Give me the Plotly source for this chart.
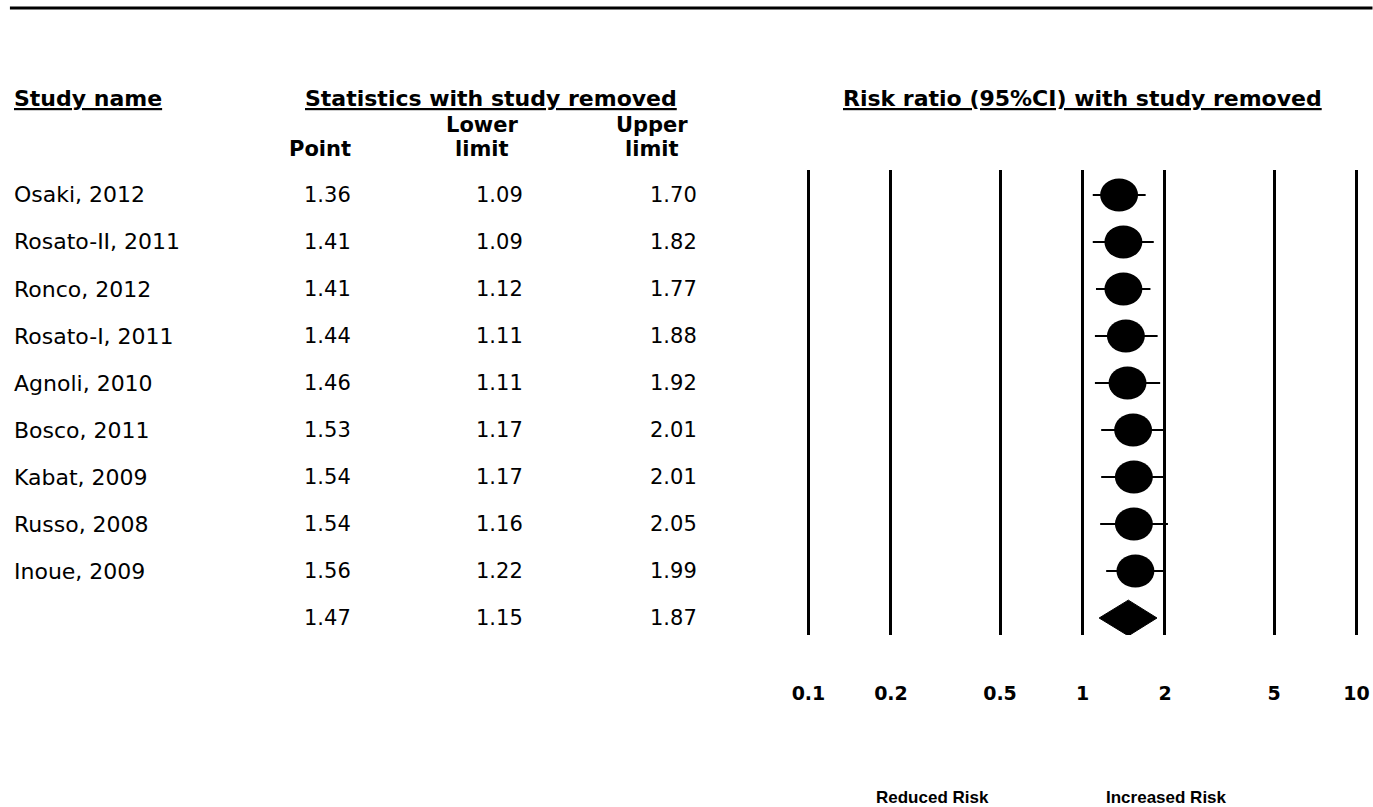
import plotly.graph_objects as go

# Leave-one-out sensitivity analysis: pooled risk ratio with each study removed
studies = ["Osaki, 2012", "Rosato-II, 2011", "Ronco, 2012", "Rosato-I, 2011",
           "Agnoli, 2010", "Bosco, 2011", "Kabat, 2009", "Russo, 2008", "Inoue, 2009"]
point = [1.36, 1.41, 1.41, 1.44, 1.46, 1.53, 1.54, 1.54, 1.56]
lower = [1.09, 1.09, 1.12, 1.11, 1.11, 1.17, 1.17, 1.16, 1.22]
upper = [1.70, 1.82, 1.77, 1.88, 1.92, 2.01, 2.01, 2.05, 1.99]

# Overall pooled estimate
pooled_point, pooled_lower, pooled_upper = 1.47, 1.15, 1.87

tick_vals = [0.1, 0.2, 0.5, 1, 2, 5, 10]
tick_text = ["0.1", "0.2", "0.5", "1", "2", "5", "10"]

W, H = 1373, 807
ROW0, ROW_STEP = 195, 47          # pixel centre of the first row, row spacing
PLOT_TOP, PLOT_BOT = 170, 635     # vertical extent of the forest panel
X_LEFT, X_RIGHT = 802.5, 1362.5   # horizontal extent of the forest panel
X_RANGE = [-1.02, 1.02]           # log10 range of the forest panel
PX_PER_DECADE = (X_RIGHT - X_LEFT) / (X_RANGE[1] - X_RANGE[0])

n_rows = len(studies) + 1
rows = list(range(len(studies)))
pooled_row = len(studies)

y_top = (PLOT_TOP - ROW0) / ROW_STEP
y_bot = (PLOT_BOT - ROW0) / ROW_STEP


def px(x):
    """Pixel x -> paper x."""
    return (x - X_LEFT) / (X_RIGHT - X_LEFT)


def py(y):
    """Pixel y -> paper y."""
    return 1 - (y - PLOT_TOP) / (PLOT_BOT - PLOT_TOP)


fig = go.Figure()

# Confidence interval whiskers
ci_x, ci_y = [], []
for r, lo, hi in zip(rows, lower, upper):
    ci_x += [lo, hi, None]
    ci_y += [r, r, None]
fig.add_trace(go.Scatter(x=ci_x, y=ci_y, mode="lines",
                         line=dict(color="black", width=2.2),
                         hoverinfo="skip", showlegend=False))

# Point estimates (hover targets; the visible marks are ellipses below)
fig.add_trace(go.Scatter(x=point, y=rows, mode="markers",
                         marker=dict(size=30, color="rgba(0,0,0,0)"),
                         customdata=list(zip(lower, upper)), text=studies,
                         hovertemplate="%{text}<br>RR %{x:.2f} "
                                       "(%{customdata[0]:.2f}-%{customdata[1]:.2f})"
                                       "<extra></extra>",
                         showlegend=False))

# Pooled estimate diamond
half_h = 0.38
fig.add_trace(go.Scatter(
    x=[pooled_lower, pooled_point, pooled_upper, pooled_point, pooled_lower],
    y=[pooled_row, pooled_row - half_h, pooled_row, pooled_row + half_h, pooled_row],
    mode="lines", fill="toself", fillcolor="black",
    line=dict(color="black", width=1), hoverinfo="skip", showlegend=False))

# Slightly wide elliptical point markers centred on each estimate
ELL_W, ELL_H = 38, 33                         # marker size in pixels
fx = 10 ** ((ELL_W / 2) / PX_PER_DECADE)      # multiplicative half-width on log axis
fy = (ELL_H / 2) / ROW_STEP                   # half-height in row units
shapes = []
for r, p in zip(rows, point):
    shapes.append(dict(type="circle", xref="x", yref="y",
                       x0=p / fx, x1=p * fx, y0=r - fy, y1=r + fy,
                       fillcolor="black", line=dict(width=0), layer="above"))

# Rule across the top of the figure
shapes.append(dict(type="line", xref="paper", yref="paper",
                   x0=px(8), x1=px(W), y0=py(8), y1=py(8),
                   line=dict(color="black", width=3)))

FAM = "DejaVu Sans, Verdana, sans-serif"
HEAD = dict(family=FAM, size=22, color="black", weight="bold")
SUB = dict(family=FAM, size=21, color="black", weight="bold")
NAME = dict(family=FAM, size=22, color="black")
NUM = dict(family=FAM, size=21, color="black")

ann = []

# Section headers (underlined)
ann.append(dict(text="<u>Study name</u>", x=px(10), y=py(98), xanchor="left",
                yanchor="middle", font=HEAD))
ann.append(dict(text="<u>Statistics with study removed</u>", x=px(490), y=py(98),
                xanchor="center", yanchor="middle", font=HEAD))
ann.append(dict(text="<u>Risk ratio (95%CI) with study removed</u>", x=px(1082),
                y=py(98), xanchor="center", yanchor="middle", font=HEAD))

# Column headers
ann.append(dict(text="Point", x=px(352), y=py(149), xanchor="right",
                yanchor="middle", font=SUB))
for label, cx in (("Lower", 481), ("Upper", 651)):
    ann.append(dict(text=label, x=px(cx), y=py(125), xanchor="center",
                    yanchor="middle", font=SUB))
    ann.append(dict(text="limit", x=px(cx), y=py(149), xanchor="center",
                    yanchor="middle", font=SUB))

# Table body
names_col = studies + [""]
pt_col = point + [pooled_point]
lo_col = lower + [pooled_lower]
hi_col = upper + [pooled_upper]
for r in range(n_rows):
    yy = py(ROW0 + r * ROW_STEP)
    if names_col[r]:
        ann.append(dict(text=names_col[r], x=px(10), y=yy, xanchor="left",
                        yanchor="middle", font=NAME))
    ann.append(dict(text=f"{pt_col[r]:.2f}", x=px(352), y=yy, xanchor="right",
                    yanchor="middle", font=NUM))
    ann.append(dict(text=f"{lo_col[r]:.2f}", x=px(524), y=yy, xanchor="right",
                    yanchor="middle", font=NUM))
    ann.append(dict(text=f"{hi_col[r]:.2f}", x=px(698), y=yy, xanchor="right",
                    yanchor="middle", font=NUM))

# Direction labels
SMALL_BOLD = dict(family="Liberation Sans, Arial, sans-serif", size=17,
                  color="black", weight="bold")
ann.append(dict(text="Reduced Risk", x=px(932), y=py(797), xanchor="center",
                yanchor="middle", font=SMALL_BOLD))
ann.append(dict(text="Increased Risk", x=px(1167), y=py(797), xanchor="center",
                yanchor="middle", font=SMALL_BOLD))

for a in ann:
    a.update(xref="paper", yref="paper", showarrow=False)

fig.update_layout(
    width=W, height=H,
    margin=dict(l=X_LEFT, r=W - X_RIGHT, t=PLOT_TOP, b=H - PLOT_BOT, pad=0),
    paper_bgcolor="white", plot_bgcolor="white",
    annotations=ann,
    shapes=shapes,
    xaxis=dict(type="log", range=X_RANGE, tickvals=tick_vals,
               ticktext=tick_text, showgrid=True, gridcolor="black",
               gridwidth=2.5, zeroline=False, showline=False, ticks="",
               ticklabelstandoff=45, automargin=False,
               tickfont=dict(family=FAM, size=19, color="black", weight="bold")),
    yaxis=dict(range=[y_bot, y_top], showgrid=False, zeroline=False,
               showticklabels=False, showline=False, ticks="", automargin=False),
)

fig.write_html("out.html")
